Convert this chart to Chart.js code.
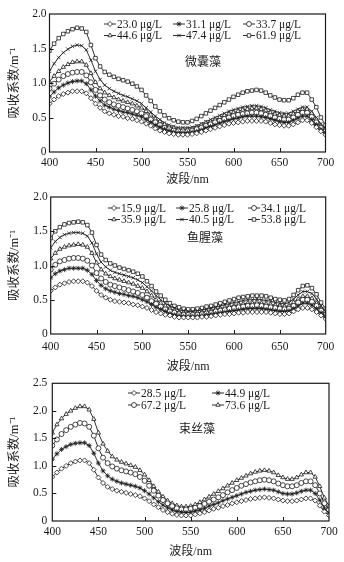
<!DOCTYPE html>
<html>
<head>
<meta charset="utf-8">
<script src="https://cdn.jsdelivr.net/npm/chart.js@4.4.1/dist/chart.umd.min.js"></script>
<style>
  html, body { margin: 0; padding: 0; background: #fff; }
  body { width: 344px; height: 562px; position: relative; overflow: hidden; }
  canvas { position: absolute; left: 0; }
</style>
</head>
<body>
<canvas id="chartMicro" width="344" height="187" style="top:0px"></canvas>
<canvas id="chartAnabaena" width="344" height="189" style="top:185px"></canvas>
<canvas id="chartAphan" width="344" height="189" style="top:370px"></canvas>
<script>
// comprimento de onda (nm) - um ponto a cada 5 nm
const wavelengths = [
  400, 405, 410, 415, 420, 425, 430, 435, 440, 445,
  450, 455, 460, 465, 470, 475, 480, 485, 490, 495,
  500, 505, 510, 515, 520, 525, 530, 535, 540, 545,
  550, 555, 560, 565, 570, 575, 580, 585, 590, 595,
  600, 605, 610, 615, 620, 625, 630, 635, 640, 645,
  650, 655, 660, 665, 670, 675, 680, 685, 690, 695,
  700
];

const xTicks = [400, 450, 500, 550, 600, 650, 700];

// ---- 微囊藻 ----
const microLabels = ['23.0 μg/L', '31.1 μg/L', '33.7 μg/L', '44.6 μg/L', '47.4 μg/L', '61.9 μg/L'];
const micro230 = [
  0.70,0.76,0.81,0.84,0.86,0.88,0.88,0.88,0.85,0.78,
  0.70,0.64,0.59,0.56,0.54,0.52,0.51,0.49,0.48,0.46,
  0.44,0.41,0.38,0.34,0.31,0.29,0.27,0.26,0.25,0.25,
  0.25,0.26,0.27,0.29,0.31,0.33,0.35,0.37,0.39,0.41,
  0.42,0.43,0.44,0.45,0.45,0.45,0.45,0.44,0.42,0.40,
  0.39,0.38,0.38,0.40,0.43,0.46,0.46,0.42,0.36,0.30,
  0.25];
const micro311 = [
  0.80,0.87,0.93,0.97,1.00,1.02,1.03,1.03,0.99,0.90,
  0.81,0.74,0.68,0.65,0.62,0.60,0.58,0.57,0.55,0.53,
  0.51,0.47,0.43,0.39,0.36,0.33,0.31,0.29,0.28,0.28,
  0.28,0.29,0.30,0.32,0.35,0.37,0.39,0.42,0.44,0.46,
  0.48,0.49,0.51,0.52,0.52,0.52,0.51,0.50,0.48,0.46,
  0.44,0.43,0.43,0.46,0.49,0.52,0.52,0.47,0.40,0.33,
  0.28];
const micro337 = [
  0.92,0.99,1.05,1.10,1.13,1.15,1.16,1.16,1.11,1.01,
  0.90,0.82,0.76,0.72,0.69,0.67,0.65,0.63,0.61,0.59,
  0.56,0.52,0.47,0.43,0.39,0.35,0.33,0.31,0.30,0.30,
  0.30,0.31,0.33,0.35,0.38,0.40,0.43,0.45,0.48,0.50,
  0.52,0.54,0.55,0.56,0.57,0.57,0.56,0.54,0.52,0.50,
  0.48,0.47,0.47,0.50,0.54,0.57,0.57,0.51,0.43,0.35,
  0.30];
const micro446 = [
  1.02,1.10,1.17,1.23,1.27,1.30,1.31,1.31,1.26,1.14,
  1.01,0.92,0.86,0.82,0.79,0.76,0.74,0.72,0.70,0.67,
  0.64,0.59,0.54,0.48,0.44,0.40,0.37,0.35,0.33,0.33,
  0.33,0.34,0.36,0.39,0.42,0.44,0.47,0.50,0.53,0.55,
  0.57,0.59,0.61,0.62,0.63,0.63,0.62,0.60,0.57,0.55,
  0.53,0.52,0.52,0.55,0.59,0.62,0.62,0.56,0.47,0.38,
  0.32];
const micro474 = [
  1.17,1.28,1.37,1.44,1.49,1.53,1.55,1.54,1.48,1.33,
  1.17,1.05,0.97,0.92,0.88,0.85,0.82,0.80,0.77,0.74,
  0.70,0.64,0.58,0.52,0.47,0.42,0.39,0.37,0.35,0.35,
  0.35,0.36,0.38,0.41,0.44,0.47,0.50,0.53,0.56,0.59,
  0.61,0.63,0.65,0.66,0.67,0.67,0.66,0.64,0.61,0.59,
  0.57,0.56,0.56,0.59,0.62,0.65,0.65,0.59,0.50,0.41,
  0.34];
const micro619 = [
  1.47,1.57,1.65,1.71,1.75,1.78,1.80,1.79,1.74,1.55,
  1.36,1.24,1.16,1.12,1.09,1.06,1.04,1.02,0.99,0.95,
  0.90,0.82,0.74,0.66,0.59,0.53,0.49,0.46,0.44,0.43,
  0.43,0.45,0.48,0.52,0.56,0.60,0.64,0.68,0.72,0.76,
  0.80,0.83,0.86,0.88,0.89,0.90,0.89,0.86,0.82,0.79,
  0.76,0.75,0.75,0.78,0.83,0.86,0.86,0.76,0.65,0.50,
  0.39];

// ---- 鱼腥藻 ----
const anaLabels = ['15.9 μg/L', '25.8 μg/L', '34.1 μg/L', '35.9 μg/L', '40.5 μg/L', '53.8 μg/L'];
const ana159 = [
  0.63,0.68,0.72,0.74,0.76,0.77,0.77,0.77,0.75,0.70,
  0.63,0.57,0.53,0.50,0.48,0.47,0.46,0.45,0.43,0.42,
  0.40,0.38,0.35,0.32,0.30,0.28,0.27,0.25,0.24,0.24,
  0.24,0.24,0.24,0.25,0.25,0.26,0.27,0.28,0.29,0.29,
  0.30,0.31,0.31,0.32,0.32,0.32,0.32,0.32,0.31,0.30,
  0.29,0.29,0.30,0.33,0.36,0.38,0.38,0.36,0.32,0.27,
  0.22];
const ana258 = [
  0.82,0.88,0.92,0.94,0.96,0.96,0.96,0.96,0.93,0.87,
  0.78,0.71,0.66,0.63,0.61,0.59,0.58,0.56,0.55,0.53,
  0.50,0.47,0.43,0.39,0.36,0.33,0.30,0.28,0.27,0.26,
  0.26,0.26,0.26,0.27,0.28,0.29,0.30,0.31,0.32,0.33,
  0.34,0.35,0.36,0.37,0.37,0.37,0.37,0.36,0.35,0.34,
  0.33,0.33,0.34,0.37,0.41,0.45,0.45,0.42,0.37,0.31,
  0.26];
const ana341 = [
  0.94,1.01,1.06,1.08,1.10,1.11,1.11,1.10,1.07,1.00,
  0.89,0.81,0.76,0.72,0.70,0.68,0.66,0.64,0.62,0.60,
  0.57,0.53,0.48,0.44,0.40,0.36,0.33,0.31,0.29,0.28,
  0.28,0.28,0.28,0.29,0.30,0.31,0.33,0.34,0.35,0.37,
  0.38,0.39,0.40,0.41,0.41,0.42,0.41,0.40,0.39,0.38,
  0.37,0.36,0.37,0.41,0.46,0.50,0.50,0.47,0.41,0.34,
  0.28];
const ana359 = [
  1.10,1.18,1.24,1.27,1.29,1.30,1.31,1.30,1.27,1.18,
  1.04,0.94,0.88,0.84,0.81,0.79,0.77,0.75,0.73,0.70,
  0.67,0.62,0.56,0.50,0.45,0.41,0.37,0.34,0.32,0.31,
  0.30,0.30,0.31,0.32,0.33,0.34,0.36,0.37,0.39,0.40,
  0.41,0.43,0.44,0.45,0.45,0.46,0.45,0.44,0.43,0.42,
  0.41,0.40,0.41,0.46,0.51,0.55,0.55,0.52,0.45,0.37,
  0.30];
const ana405 = [
  1.26,1.35,1.41,1.45,1.47,1.48,1.48,1.47,1.43,1.33,
  1.17,1.05,0.98,0.93,0.90,0.88,0.86,0.84,0.82,0.79,
  0.75,0.69,0.63,0.56,0.50,0.45,0.41,0.38,0.35,0.34,
  0.33,0.33,0.34,0.35,0.36,0.38,0.39,0.41,0.43,0.44,
  0.46,0.47,0.49,0.50,0.50,0.51,0.50,0.49,0.48,0.46,
  0.45,0.44,0.46,0.51,0.57,0.62,0.62,0.59,0.51,0.41,
  0.33];
const ana538 = [
  1.40,1.50,1.56,1.60,1.62,1.63,1.64,1.63,1.59,1.48,
  1.30,1.16,1.08,1.03,1.00,0.97,0.95,0.93,0.91,0.88,
  0.84,0.77,0.70,0.62,0.56,0.50,0.45,0.41,0.39,0.37,
  0.36,0.36,0.37,0.38,0.40,0.41,0.43,0.45,0.47,0.49,
  0.51,0.53,0.54,0.55,0.56,0.56,0.56,0.55,0.53,0.51,
  0.50,0.49,0.51,0.57,0.64,0.70,0.71,0.67,0.58,0.46,
  0.37];

// ---- 束丝藻 ----
const aphLabels = ['28.5 μg/L', '44.9 μg/L', '67.2 μg/L', '73.6 μg/L'];
const aph285 = [
  0.80,0.88,0.95,1.00,1.05,1.08,1.10,1.10,1.05,0.93,
  0.79,0.69,0.62,0.58,0.55,0.53,0.51,0.49,0.47,0.45,
  0.41,0.36,0.30,0.25,0.20,0.16,0.13,0.11,0.10,0.10,
  0.10,0.12,0.14,0.16,0.19,0.22,0.24,0.27,0.29,0.32,
  0.34,0.36,0.38,0.40,0.41,0.42,0.43,0.42,0.41,0.39,
  0.37,0.36,0.36,0.37,0.39,0.41,0.41,0.37,0.28,0.17,
  0.10];
const aph449 = [
  1.12,1.22,1.30,1.35,1.39,1.41,1.42,1.42,1.37,1.23,
  1.05,0.91,0.82,0.76,0.72,0.69,0.67,0.65,0.63,0.60,
  0.55,0.49,0.42,0.35,0.29,0.24,0.20,0.17,0.16,0.15,
  0.16,0.18,0.20,0.23,0.27,0.30,0.33,0.37,0.40,0.43,
  0.46,0.49,0.52,0.54,0.56,0.57,0.58,0.57,0.56,0.53,
  0.50,0.49,0.49,0.51,0.54,0.56,0.56,0.50,0.38,0.23,
  0.14];
const aph672 = [
  1.37,1.48,1.58,1.65,1.71,1.75,1.78,1.77,1.71,1.55,
  1.32,1.15,1.05,0.99,0.95,0.92,0.90,0.88,0.85,0.80,
  0.73,0.64,0.55,0.46,0.38,0.32,0.27,0.23,0.21,0.21,
  0.22,0.24,0.27,0.31,0.35,0.39,0.43,0.47,0.52,0.56,
  0.60,0.64,0.67,0.70,0.72,0.74,0.75,0.74,0.72,0.68,
  0.65,0.63,0.63,0.65,0.69,0.72,0.72,0.65,0.50,0.32,
  0.20];
const aph736 = [
  1.60,1.75,1.86,1.94,2.00,2.05,2.08,2.08,2.02,1.85,
  1.60,1.40,1.27,1.17,1.11,1.07,1.04,1.01,0.98,0.92,
  0.84,0.74,0.63,0.53,0.44,0.37,0.32,0.28,0.26,0.26,
  0.27,0.30,0.34,0.39,0.44,0.49,0.54,0.59,0.64,0.69,
  0.74,0.78,0.82,0.86,0.89,0.91,0.92,0.91,0.88,0.83,
  0.79,0.76,0.76,0.79,0.84,0.88,0.88,0.80,0.63,0.42,
  0.27];

const SERIF = '"Liberation Serif", "Times New Roman", serif';
const CJK = '"Liberation Serif", "Noto Sans CJK SC", serif';
const INK = '#1a1a1a';

function buildDataset(label, values, pointStyle) {
  return {
    label: label,
    data: wavelengths.map((w, i) => ({ x: w, y: values[i] })),
    borderColor: INK,
    borderWidth: 0.9,
    pointStyle: pointStyle,
    pointRadius: 2.5,
    pointBorderWidth: 0.8,
    pointBorderColor: INK,
    pointBackgroundColor: '#fff',
    tension: 0
  };
}

// moldura, ticks internos, legenda e nome da alga
const framePlugin = {
  id: 'framePlugin',
  afterDatasetsDraw(chart, args, opts) {
    const { ctx, chartArea: a, scales } = chart;
    ctx.save();
    ctx.strokeStyle = INK;
    ctx.lineWidth = 1.2;
    ctx.strokeRect(a.left, a.top, a.right - a.left, a.bottom - a.top);

    ctx.lineWidth = 1;
    ctx.beginPath();
    scales.x.ticks.forEach(t => {
      if (t.value <= scales.x.min || t.value >= scales.x.max) return;
      const px = Math.round(scales.x.getPixelForValue(t.value)) + 0.5;
      ctx.moveTo(px, a.bottom);
      ctx.lineTo(px, a.bottom - 4);
    });
    scales.y.ticks.forEach(t => {
      if (t.value <= scales.y.min || t.value >= scales.y.max) return;
      const py = Math.round(scales.y.getPixelForValue(t.value)) + 0.5;
      ctx.moveTo(a.left, py);
      ctx.lineTo(a.left + 4, py);
    });
    ctx.stroke();

    // legenda
    ctx.font = '11.5px ' + SERIF;
    ctx.textBaseline = 'middle';
    ctx.textAlign = 'left';
    chart.data.datasets.forEach((ds, i) => {
      const x = opts.cols[i % opts.cols.length];
      const y = opts.rows[Math.floor(i / opts.cols.length)];
      ctx.strokeStyle = INK;
      ctx.lineWidth = 0.9;
      ctx.beginPath();
      ctx.moveTo(x, y);
      ctx.lineTo(x + 12, y);
      ctx.stroke();
      ctx.fillStyle = '#fff';
      ctx.lineWidth = 0.8;
      Chart.helpers.drawPoint(ctx, { pointStyle: ds.pointStyle, radius: 2.5, borderWidth: 0.8, rotation: 0 }, x + 6, y);
      ctx.fillStyle = INK;
      ctx.fillText(ds.label, x + 13, y + 0.5);
    });

    ctx.font = '12px ' + CJK;
    ctx.textAlign = 'center';
    ctx.fillText(opts.name, opts.nameX, opts.nameY);
    ctx.restore();
  }
};

function makeChart(id, cfg) {
  const ctx = document.getElementById(id);
  return new Chart(ctx, {
    type: 'line',
    data: { datasets: cfg.datasets },
    plugins: [framePlugin],
    options: {
      responsive: false,
      animation: false,
      devicePixelRatio: 1,
      layout: { padding: { top: cfg.top, right: cfg.right, left: 0, bottom: 0 } },
      plugins: {
        legend: { display: false },
        tooltip: { enabled: false },
        framePlugin: cfg.frame
      },
      scales: {
        x: {
          type: 'linear',
          min: 400,
          max: 700,
          afterBuildTicks: s => { s.ticks = xTicks.map(v => ({ value: v })); },
          afterFit: s => { s.height = cfg.xHeight; },
          grid: { display: false, drawTicks: false },
          border: { display: false },
          ticks: { color: INK, padding: cfg.xPad, font: { family: SERIF, size: 11.5 }, maxRotation: 0 },
          title: { display: true, text: '波段/nm', color: INK, padding: 0, font: { family: CJK, size: 12 } }
        },
        y: {
          min: 0,
          max: cfg.yMax,
          afterBuildTicks: s => { s.ticks = cfg.yTicks.map(v => ({ value: v })); },
          afterFit: s => { s.width = cfg.yWidth; },
          grid: { display: false, drawTicks: false },
          border: { display: false },
          ticks: {
            color: INK,
            padding: cfg.yPad,
            font: { family: SERIF, size: 11.5 },
            callback: v => (v === 0 ? '0' : v.toFixed(1))
          },
          title: { display: true, text: '吸收系数/m⁻¹', color: INK, padding: { top: 7, bottom: 0 }, font: { family: CJK, size: 12.5 } }
        }
      }
    }
  });
}

makeChart('chartMicro', {
  datasets: [
    buildDataset(microLabels[0], micro230, 'rectRot'),
    buildDataset(microLabels[1], micro311, 'star'),
    buildDataset(microLabels[2], micro337, 'circle'),
    buildDataset(microLabels[3], micro446, 'triangle'),
    buildDataset(microLabels[4], micro474, 'crossRot'),
    buildDataset(microLabels[5], micro619, 'rect')
  ],
  top: 14, right: 18.5, xHeight: 35, yWidth: 49.5, xPad: 4, yPad: 3,
  yMax: 2.0, yTicks: [0, 0.5, 1.0, 1.5, 2.0],
  frame: { cols: [104, 173, 243], rows: [24, 35.5], name: '微囊藻', nameX: 203, nameY: 63 }
});

makeChart('chartAnabaena', {
  datasets: [
    buildDataset(anaLabels[0], ana159, 'rectRot'),
    buildDataset(anaLabels[1], ana258, 'star'),
    buildDataset(anaLabels[2], ana341, 'circle'),
    buildDataset(anaLabels[3], ana359, 'triangle'),
    buildDataset(anaLabels[4], ana405, 'crossRot'),
    buildDataset(anaLabels[5], ana538, 'rect')
  ],
  top: 12, right: 18.3, xHeight: 40, yWidth: 50.7, xPad: 6, yPad: 3,
  yMax: 2.0, yTicks: [0, 0.5, 1.0, 1.5, 2.0],
  frame: { cols: [108, 176, 248], rows: [23, 34.5], name: '鱼腥藻', nameX: 205, nameY: 54 }
});

makeChart('chartAphan', {
  datasets: [
    buildDataset(aphLabels[0], aph285, 'rectRot'),
    buildDataset(aphLabels[1], aph449, 'star'),
    buildDataset(aphLabels[2], aph672, 'circle'),
    buildDataset(aphLabels[3], aph736, 'triangle')
  ],
  top: 13.3, right: 15, xHeight: 38, yWidth: 52.3, xPad: 4, yPad: 5,
  yMax: 2.5, yTicks: [0, 0.5, 1.0, 1.5, 2.0, 2.5],
  frame: { cols: [128, 212], rows: [23, 35], name: '束丝藻', nameX: 197, nameY: 60 }
});
</script>
</body>
</html>
